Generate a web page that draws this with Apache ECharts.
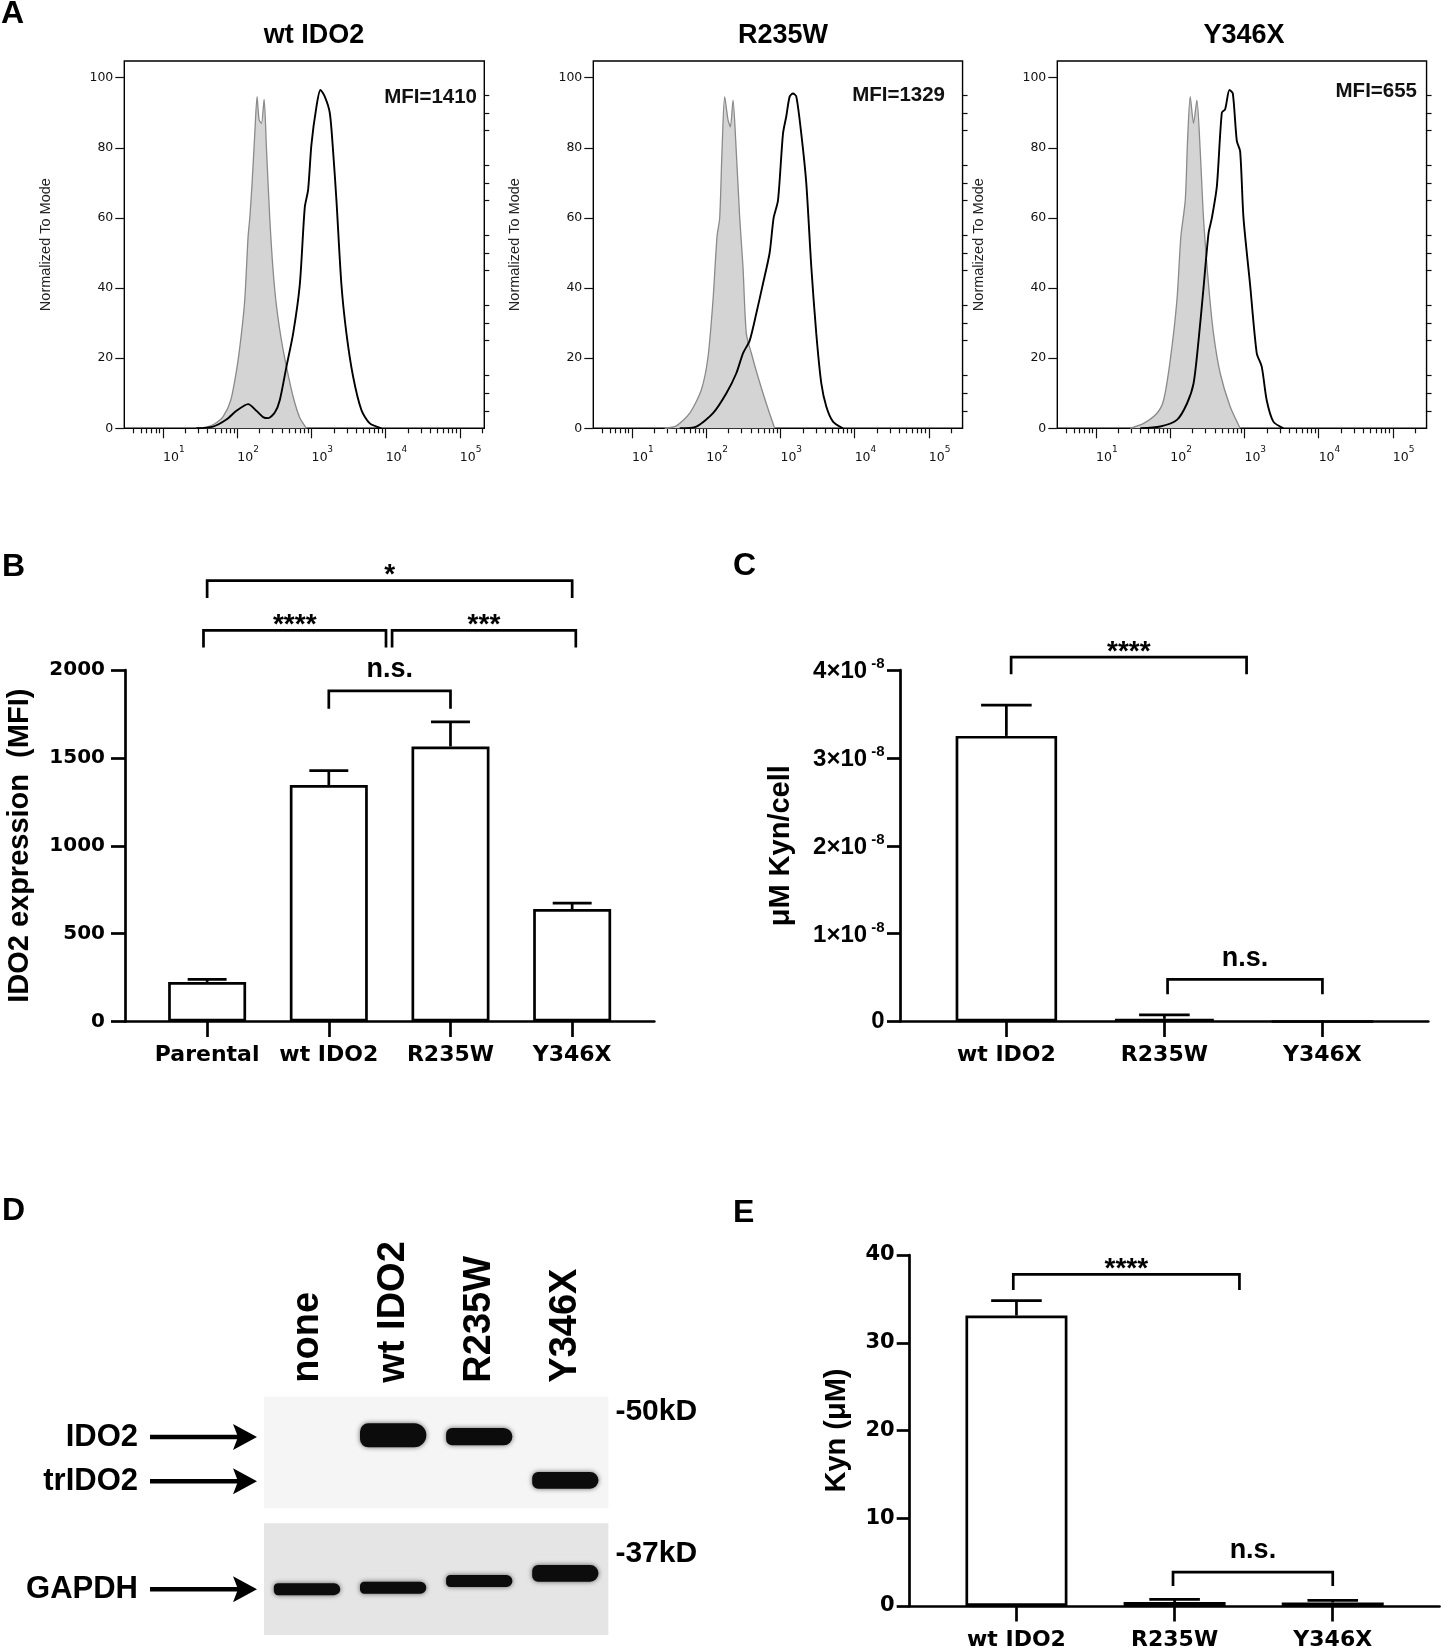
<!DOCTYPE html>
<html><head><meta charset="utf-8">
<script src="https://cdn.jsdelivr.net/npm/echarts@6/dist/echarts.min.js"></script>
<style>html,body{margin:0;padding:0;background:#fff}#c{width:1441px;height:1651px}</style>
</head><body><div id="c"></div>
<script>
// ---------- Panel A: flow histograms (x = log10 fluorescence, y = % of mode) ----------
const histTitles = ['wt IDO2', 'R235W', 'Y346X'];
const mfiLabels = ['MFI=1410', 'MFI=1329', 'MFI=655'];
const a1GrayX = [1.449,1.584,1.697,1.809,1.912,1.998,2.056,2.101,2.146,2.169,2.200,2.236,2.267,2.294,2.326,2.362,2.393,2.438,2.483,2.528,2.596,2.663,2.753,2.843,2.933];
const a1GrayY = [0,0.3,1.3,3.3,8,17.6,27,36.6,54.7,60,70,84,94.6,88,87,93.8,80,60,45,35,25,17.6,9,3,0];
const a1BlackX = [1.449,1.674,1.854,1.989,2.146,2.258,2.348,2.416,2.506,2.573,2.663,2.753,2.843,2.910,2.955,3.000,3.067,3.121,3.180,3.247,3.292,3.337,3.404,3.472,3.562,3.674,3.787,3.944];
const a1BlackY = [0,0.5,2.5,5,6.9,5,3.2,2.9,4.5,8,17.6,27,41,63,68,81,91.7,96.5,94.6,90,79,65,41,27,14.7,5.2,1.4,0];
const a2GrayX = [1.440,1.597,1.777,1.934,2.024,2.091,2.145,2.181,2.212,2.248,2.293,2.325,2.361,2.397,2.451,2.495,2.540,2.608,2.697,2.810,2.922];
const a2GrayY = [0,0.7,4.3,11,20.4,36.6,54.7,60,79,94.6,88,86,93.6,82,60,46,27,21.4,14.7,7,0];
const a2BlackX = [1.642,1.867,2.091,2.271,2.405,2.495,2.585,2.675,2.765,2.854,2.908,2.967,3.034,3.079,3.124,3.169,3.214,3.281,3.348,3.416,3.483,3.551,3.618,3.708,3.842];
const a2BlackY = [0,0.5,4.3,10,15.7,21.4,25,32.8,41.3,50,60,65,84,89,94.6,95.5,94.6,84,70,46,27,12.8,6.2,1.9,0];
const a3GrayX = [1.462,1.641,1.821,1.910,2.0,2.090,2.143,2.202,2.233,2.269,2.314,2.359,2.404,2.448,2.516,2.583,2.673,2.807,2.942];
const a3GrayY = [0,1.4,4.3,8,19.5,36.6,54.7,65,82,94.6,87,93.6,79,60,41,27,15.7,6.2,0];
const a3BlackX = [1.596,1.865,2.090,2.224,2.314,2.381,2.448,2.516,2.561,2.628,2.695,2.740,2.798,2.843,2.897,2.942,2.987,3.076,3.166,3.233,3.300,3.390,3.525];
const a3BlackY = [0,0.5,2.4,7,12.8,25,40,55.6,60,69,90,91,96.5,95.5,82,79,60,41,21.4,17.6,8,1.9,0];
const histDecades = [1, 2, 3, 4, 5];
const histYTicks = [0, 20, 40, 60, 80, 100];

// ---------- Panel B ----------
const catsB = ['Parental', 'wt IDO2', 'R235W', 'Y346X'];
const valsB = [225, 1345, 1565, 640];
const errB = [15, 83, 140, 33];
const sigBFrom = [0, -0.03, 1.52, 1.0];
const sigBTo = [3, 1.47, 3.03, 2.0];
const sigBLine = [2508, 2226, 2226, 1881];
const sigBLeg = [2410, 2128, 2128, 1779];
const sigBLabel = ['*', '****', '***', 'n.s.'];

// ---------- Panel C ----------
const catsC = ['wt IDO2', 'R235W', 'Y346X'];
const valsC = [3.25e-8, 0.03e-8, 0];
const errC = [0.35e-8, 0.045e-8, 0];
const sigCFrom = [0.03, 1.02];
const sigCTo = [1.52, 2.0];
const sigCLine = [4.147e-8, 0.48e-8];
const sigCLeg = [3.951e-8, 0.31e-8];
const sigCLabel = ['****', 'n.s.'];

// ---------- Panel D (western blot) ----------
const lanes = ['none', 'wt IDO2', 'R235W', 'Y346X'];
const ido2Mw = [null, 47.2, 47.05, null];
const ido2Int = [0, 1.0, 0.72, 0];
const trMw = [null, null, null, 41.8];
const trInt = [0, 0, 0, 0.7];
const gapdhMw = [36.0, 36.04, 36.23, 36.45];
const gapdhInt = [0.5, 0.5, 0.5, 0.7];
const topBandNames = ['IDO2', 'trIDO2'];
const topBandLabelMw = [47.0, 41.7];
const botBandNames = ['GAPDH'];
const botBandLabelMw = [36.0];
const topMarker = [50];
const botMarker = [37];

// ---------- Panel E ----------
const catsE = ['wt IDO2', 'R235W', 'Y346X'];
const valsE = [33.1, 0.45, 0.4];
const errE = [1.7, 0.3, 0.25];
const sigEFrom = [-0.02, 0.99];
const sigETo = [1.41, 2.0];
const sigELine = [37.8, 3.87];
const sigELeg = [36.0, 2.27];
const sigELabel = ['****', 'n.s.'];

// =====================================================================
const FA = '"Liberation Sans", Arial, sans-serif';
const FD = '"DejaVu Sans", sans-serif';
const BLACK = '#000';
const LW = 2.7;

const grids = [], xAxes = [], yAxes = [], series = [], graphics = [];

// ---- Panel A ----
const histGeo = [
  {left: 124.3, xmax: 5.33},
  {left: 593.3, xmax: 5.455},
  {left: 1057.3, xmax: 5.455}
];
const XMIN = Math.log10(3), YMAX = 104.76;
const histData = [
  [a1GrayX, a1GrayY, a1BlackX, a1BlackY],
  [a2GrayX, a2GrayY, a2BlackX, a2BlackY],
  [a3GrayX, a3GrayY, a3BlackX, a3BlackY]
];
function minorLog(min, max) {
  const t = [];
  for (let n = 0; n <= 6; n++) for (let k = 2; k <= 9; k++) {
    const v = n + Math.log10(k);
    if (v > min + 1e-6 && v < max - 1e-6) t.push(v);
  }
  return t;
}
function zip(a, b) { return a.map((v, i) => [v, b[i]]); }
const tickStyle = {color: '#111', width: 1.2};
histGeo.forEach((g, i) => {
  const w = (g.xmax - XMIN) * 74.18;
  grids.push({left: g.left, top: 61, width: w, height: 367.3, show: true,
    borderColor: '#000', borderWidth: 1.4, backgroundColor: 'rgba(0,0,0,0)'});
  xAxes.push({gridIndex: i, type: 'value', min: XMIN, max: g.xmax, position: 'bottom',
    axisLine: {show: false, onZero: false}, splitLine: {show: false},
    axisTick: {show: true, customValues: histDecades, length: 10, lineStyle: tickStyle},
    axisLabel: {customValues: histDecades, align: 'left', margin: 17,
      formatter: v => '{b|10}{s|' + Math.round(v) + '}',
      rich: {b: {fontFamily: FD, fontSize: 12.5, color: '#111', lineHeight: 19, verticalAlign: 'bottom'},
             s: {fontFamily: FD, fontSize: 9, color: '#111', lineHeight: 10, verticalAlign: 'top'}}}});
  xAxes.push({gridIndex: i, type: 'value', min: XMIN, max: g.xmax, position: 'bottom',
    axisLine: {show: false, onZero: false}, splitLine: {show: false}, axisLabel: {show: false},
    axisTick: {show: true, customValues: minorLog(XMIN, g.xmax), length: 5, lineStyle: tickStyle}});
  yAxes.push({gridIndex: i, type: 'value', min: 0, max: YMAX,
    axisLine: {show: false, onZero: false}, splitLine: {show: false},
    axisTick: {show: true, customValues: histYTicks, length: 9, lineStyle: tickStyle},
    axisLabel: {customValues: histYTicks, margin: 11, fontFamily: FD, fontSize: 12.5, color: '#111'},
    name: 'Normalized To Mode', nameLocation: 'middle', nameRotate: 90, nameGap: 78,
    nameTextStyle: {fontFamily: FA, fontSize: 14.5, color: '#222', align: 'center', verticalAlign: 'middle'}});
  const minorY = [];
  for (let v = 5; v < 100; v += 5) if (v % 20 !== 0) minorY.push(v);
  yAxes.push({gridIndex: i, type: 'value', min: 0, max: YMAX,
    axisLine: {show: false, onZero: false}, splitLine: {show: false}, axisLabel: {show: false},
    axisTick: {show: true, customValues: minorY, length: 5, lineStyle: tickStyle}});
  const d = histData[i];
  series.push({type: 'line', xAxisIndex: 2 * i, yAxisIndex: 2 * i, data: zip(d[0], d[1]),
    showSymbol: false, smooth: 0.25, silent: true, z: 2,
    lineStyle: {color: '#8a8a8a', width: 1.3}, areaStyle: {color: '#d4d4d4', opacity: 1}});
  series.push({type: 'line', xAxisIndex: 2 * i, yAxisIndex: 2 * i, data: zip(d[2], d[3]),
    showSymbol: false, smooth: 0.25, silent: true, z: 3,
    lineStyle: {color: '#000', width: 1.9}});
});
const titlePos = [[314, 36], [783, 36], [1244, 36]];
const mfiPos = [[477, 97], [945, 95], [1417, 91]];
histTitles.forEach((t, i) => {
  graphics.push({type: 'text', x: titlePos[i][0], y: titlePos[i][1],
    style: {text: t, fontFamily: FA, fontWeight: 'bold', fontSize: 27, fill: '#000',
      align: 'center', verticalAlign: 'middle', textAlign: 'center', textVerticalAlign: 'middle'}});
  graphics.push({type: 'text', x: mfiPos[i][0], y: mfiPos[i][1],
    style: {text: mfiLabels[i], fontFamily: FA, fontWeight: 'bold', fontSize: 20.5, fill: '#111',
      align: 'right', verticalAlign: 'middle', textAlign: 'right', textVerticalAlign: 'middle'}});
});

// ---- Bar panels helpers ----
const axLine = {show: true, onZero: false, lineStyle: {color: BLACK, width: LW}};
const axTick = len => ({show: true, length: len, lineStyle: {color: BLACK, width: LW}});
function barXAxis(gi, min, max, cats) {
  const idx = cats.map((c, i) => i);
  return {gridIndex: gi, type: 'value', min: min, max: max, axisLine: axLine, splitLine: {show: false},
    axisTick: Object.assign(axTick(15.5), {customValues: idx}),
    axisLabel: {customValues: idx, formatter: v => cats[Math.round(v)], margin: 23,
      fontFamily: FD, fontWeight: 'bold', fontSize: 22, color: BLACK}};
}
function barSeries(xi, yi, vals, width) {
  return {type: 'bar', xAxisIndex: xi, yAxisIndex: yi, data: vals.map((v, i) => [i, v]),
    barWidth: width, silent: true, z: 3,
    itemStyle: {color: '#fff', borderColor: BLACK, borderWidth: LW}};
}
function errSeries(xi, yi, vals, errs) {
  return {type: 'custom', xAxisIndex: xi, yAxisIndex: yi, clip: false, silent: true, z: 4,
    data: vals.map((v, i) => [i, v, errs[i]]),
    renderItem: (params, api) => {
      const x = api.value(0), v = api.value(1), e = api.value(2);
      if (!e) return null;
      const a = api.coord([x, v]), b = api.coord([x, v + e]);
      const hw = api.size([1, 0])[0] * 0.16;
      const st = {stroke: BLACK, lineWidth: LW};
      return {type: 'group', children: [
        {type: 'line', shape: {x1: a[0], y1: a[1], x2: b[0], y2: b[1]}, style: st},
        {type: 'line', shape: {x1: b[0] - hw, y1: b[1], x2: b[0] + hw, y2: b[1]}, style: st}]};
    }};
}
function sigSeries(xi, yi, from, to, line, leg, labels) {
  return {type: 'custom', xAxisIndex: xi, yAxisIndex: yi, clip: false, silent: true, z: 5,
    data: from.map((f, i) => [f, to[i], line[i], leg[i]]),
    renderItem: (params, api) => {
      const p1 = api.coord([api.value(0), api.value(2)]), p2 = api.coord([api.value(1), api.value(2)]);
      const g1 = api.coord([api.value(0), api.value(3)]), g2 = api.coord([api.value(1), api.value(3)]);
      const lab = labels[params.dataIndex];
      const star = lab.indexOf('*') >= 0;
      return {type: 'group', children: [
        {type: 'polyline', shape: {points: [g1, p1, p2, g2]},
          style: {stroke: BLACK, lineWidth: LW, fill: null}},
        {type: 'text', x: (p1[0] + p2[0]) / 2, y: p1[1] - (star ? 5 : 21),
          style: {text: lab, fill: BLACK, fontFamily: FA, fontWeight: 'bold', fontSize: star ? 28 : 27,
            align: 'center', verticalAlign: 'middle', textAlign: 'center', textVerticalAlign: 'middle'}}]};
    }};
}
const yTitleStyle = {fontFamily: FA, fontWeight: 'bold', fontSize: 29, color: BLACK, align: 'center', verticalAlign: 'middle'};

// ---- Panel B (grid 3) ----
grids.push({left: 125, top: 670, width: 529.3, height: 351.5});
xAxes.push(barXAxis(3, -0.675, 3.675, catsB));               // xAxis 6
yAxes.push({gridIndex: 3, type: 'value', min: 0, max: 2000, interval: 500,   // yAxis 6
  axisLine: axLine, axisTick: axTick(14), splitLine: {show: false},
  axisLabel: {margin: 20, fontFamily: FD, fontWeight: 'bold', fontSize: 20, color: BLACK, formatter: v => String(v)},
  name: 'IDO2 expression  (MFI)', nameLocation: 'middle', nameRotate: 90, nameGap: 105,
  nameTextStyle: yTitleStyle});
series.push(barSeries(6, 6, valsB, 78));
series.push(errSeries(6, 6, valsB, errB));
series.push(sigSeries(6, 6, sigBFrom, sigBTo, sigBLine, sigBLeg, sigBLabel));

// ---- Panel C (grid 4) ----
grids.push({left: 900.5, top: 670, width: 527.8, height: 351.5});
xAxes.push(barXAxis(4, -0.67, 2.67, catsC));                 // xAxis 7
yAxes.push({gridIndex: 4, type: 'value', min: 0, max: 4e-8, interval: 1e-8,  // yAxis 7
  axisLine: axLine, axisTick: axTick(13.5), splitLine: {show: false},
  axisLabel: {margin: 16, fontFamily: FA, fontWeight: 'bold', fontSize: 24, color: BLACK,
    formatter: v => { const n = Math.round(v * 1e8); return n === 0 ? '0' : '{b|' + n + '×10}{s|-8}'; },
    rich: {b: {fontFamily: FA, fontWeight: 'bold', fontSize: 24, color: BLACK, lineHeight: 27, verticalAlign: 'bottom'},
           s: {fontFamily: FA, fontWeight: 'bold', fontSize: 15, color: BLACK, lineHeight: 15, verticalAlign: 'top', padding: [0, 0, 0, 4]}}},
  name: 'μM Kyn/cell', nameLocation: 'middle', nameRotate: 90, nameGap: 119.5,
  nameTextStyle: yTitleStyle});
series.push(barSeries(7, 7, valsC, 101.5));
series.push(errSeries(7, 7, valsC, errC));
series.push(sigSeries(7, 7, sigCFrom, sigCTo, sigCLine, sigCLeg, sigCLabel));

// ---- Panel D (grids 5, 6) ----
const topStrip = {left: 264, top: 1396.7, width: 344.4, height: 111.6};
const botStrip = {left: 264, top: 1523.3, width: 344.4, height: 111.7};
grids.push(Object.assign({show: true, backgroundColor: '#f5f5f5', borderWidth: 0, borderColor: 'transparent'}, topStrip));
grids.push(Object.assign({show: true, backgroundColor: '#e5e5e5', borderWidth: 0, borderColor: 'transparent'}, botStrip));
xAxes.push({gridIndex: 5, type: 'category', data: lanes, position: 'top', boundaryGap: true,   // xAxis 8
  axisLine: {show: false}, axisTick: {show: false},
  axisLabel: {rotate: -90, margin: 14, interval: 0, fontFamily: FA, fontWeight: 'bold', fontSize: 38, color: BLACK}});
xAxes.push({gridIndex: 6, type: 'category', data: lanes, show: false, boundaryGap: true});      // xAxis 9
function blotY(gi, min, max, pos, values, fmt, margin, fs) {
  return {gridIndex: gi, type: 'value', min: min, max: max, position: pos,
    axisLine: {show: false}, axisTick: {show: false}, splitLine: {show: false},
    axisLabel: {customValues: values, formatter: fmt, margin: margin,
      fontFamily: FA, fontWeight: 'bold', fontSize: fs, color: BLACK}};
}
const nearestName = (names, mws) => v => { let b = 0; mws.forEach((m, i) => { if (Math.abs(m - v) < Math.abs(mws[b] - v)) b = i; }); return names[b]; };
yAxes.push(blotY(5, 38.44, 51.84, 'left', topBandLabelMw, nearestName(topBandNames, topBandLabelMw), 126, 31));  // yAxis 8
yAxes.push(blotY(5, 38.44, 51.84, 'right', topMarker, v => '-' + Math.round(v) + 'kD', 7, 30));                    // yAxis 9
yAxes.push(blotY(6, 34.69, 37.88, 'left', botBandLabelMw, nearestName(botBandNames, botBandLabelMw), 126, 31));  // yAxis 10
yAxes.push(blotY(6, 34.69, 37.88, 'right', botMarker, v => '-' + Math.round(v) + 'kD', 7, 30));                   // yAxis 11

function bandSeries(xi, yi, data) {
  return {type: 'custom', xAxisIndex: xi, yAxisIndex: yi, clip: false, silent: true, z: 3, data: data,
    renderItem: (params, api) => {
      const inten = api.value(2);
      if (!inten) return null;
      const c = api.coord([api.value(0), api.value(1)]);
      const bw = api.size([1, 0])[0] * 0.77;
      const h = 24 * inten;
      return {type: 'rect', shape: {x: c[0] - bw / 2, y: c[1] - h / 2, width: bw, height: h, r: [h * 0.35, h * 0.5, h * 0.5, h * 0.35]},
        style: {fill: '#0c0c0c', shadowBlur: 5, shadowColor: 'rgba(0,0,0,0.6)'}};
    }};
}
const topBands = [];
lanes.forEach((l, i) => {
  if (ido2Int[i] > 0) topBands.push([i, ido2Mw[i], ido2Int[i]]);
  if (trInt[i] > 0) topBands.push([i, trMw[i], trInt[i]]);
});
const botBands = lanes.map((l, i) => [i, gapdhMw[i], gapdhInt[i]]);
series.push(bandSeries(8, 8, topBands));
series.push(bandSeries(9, 10, botBands));
function arrowSeries(xi, yi, mws) {
  return {type: 'custom', xAxisIndex: xi, yAxisIndex: yi, clip: false, silent: true, z: 4,
    data: mws.map(m => [0, m]),
    renderItem: (params, api) => {
      const y = api.coord([0, api.value(1)])[1];
      const gl = params.coordSys.x;
      const tip = gl - 7, start = gl - 114;
      return {type: 'group', children: [
        {type: 'line', shape: {x1: start, y1: y, x2: tip - 18, y2: y}, style: {stroke: BLACK, lineWidth: 4.5}},
        {type: 'polygon', shape: {points: [[tip, y], [tip - 24, y - 13], [tip - 19, y], [tip - 24, y + 13]]},
          style: {fill: BLACK}}]};
    }};
}
series.push(arrowSeries(8, 8, topBandLabelMw));
series.push(arrowSeries(9, 10, botBandLabelMw));

// ---- Panel E (grid 7) ----
grids.push({left: 909.7, top: 1255, width: 529.8, height: 351.7});
xAxes.push(barXAxis(7, -0.675, 2.675, catsE));               // xAxis 10
yAxes.push({gridIndex: 7, type: 'value', min: 0, max: 40, interval: 10,     // yAxis 12
  axisLine: axLine, axisTick: axTick(13), splitLine: {show: false},
  axisLabel: {margin: 15, fontFamily: FD, fontWeight: 'bold', fontSize: 21, color: BLACK},
  name: 'Kyn (μM)', nameLocation: 'middle', nameRotate: 90, nameGap: 72.7,
  nameTextStyle: yTitleStyle});
series.push(barSeries(10, 12, valsE, 102));
series.push(errSeries(10, 12, valsE, errE));
series.push(sigSeries(10, 12, sigEFrom, sigETo, sigELine, sigELeg, sigELabel));

// ---- Panel letters ----
[['A', 1, 14], ['B', 2, 567], ['C', 733, 566], ['D', 2, 1211], ['E', 733, 1213]].forEach(p => {
  graphics.push({type: 'text', x: p[1], y: p[2],
    style: {text: p[0], fontFamily: FA, fontWeight: 'bold', fontSize: 32, fill: '#000',
      align: 'left', verticalAlign: 'middle', textAlign: 'left', textVerticalAlign: 'middle'}});
});

const chart = echarts.init(document.getElementById('c'), null, {renderer: 'canvas'});
chart.setOption({
  animation: false,
  backgroundColor: '#fff',
  grid: grids, xAxis: xAxes, yAxis: yAxes, series: series,
  graphic: {elements: graphics}
});
</script></body></html>
